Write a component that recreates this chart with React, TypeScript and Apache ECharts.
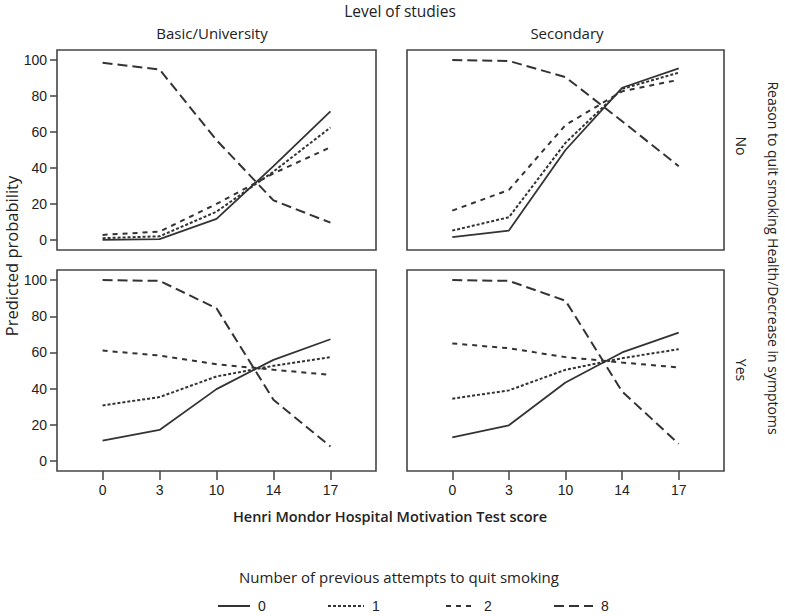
import React, { useEffect, useRef } from "react";
import * as echarts from "echarts";

// Motivation test score categories (x axis)
const xLabels = ["0", "3", "10", "14", "17"];
// Number of previous attempts to quit smoking (series)
const attemptNames = ["0", "1", "2", "8"];
const yTicks = [0, 20, 40, 60, 80, 100];

// Predicted probability per panel, rows follow attemptNames
const basicNo = [
  [0, 0.5, 11.7, 41, 71.5],
  [1, 2, 15.7, 38, 62.5],
  [2.8, 4.6, 20, 37, 51.5],
  [98.5, 94.8, 55.5, 22, 9.6],
];
const secondaryNo = [
  [1.5, 5.2, 50, 84.6, 95.4],
  [5.2, 12.6, 54, 84, 93],
  [16.3, 27.8, 63.9, 82.6, 89],
  [100, 99.5, 90.5, 66, 41],
];
const basicYes = [
  [11.2, 17.1, 39.7, 55.9, 67.3],
  [30.7, 35.3, 46.7, 52.6, 57.4],
  [61, 58.3, 53.5, 50.4, 47.6],
  [100, 99.6, 84.4, 33.8, 8],
];
const secondaryYes = [
  [13, 19.7, 43.4, 60, 71],
  [34.4, 39, 50.4, 56.8, 61.8],
  [65, 62.3, 57.4, 54.4, 51.7],
  [100, 99.6, 88.6, 38.4, 9.4],
];

const panels = [basicNo, secondaryNo, basicYes, secondaryYes];

const LINE = "#333333";
const BORDER = "#454545";
const TEXT = "#222222";
const dashTypes: any[] = ["solid", [3, 2], [5, 5], [10, 5]];
const lineWidths = [1.8, 2, 2, 2];
const legendLeft = [217, 327, 445, 553];
const legendWidth = [32, 36, 30, 39];

export default function App() {
  const ref = useRef<HTMLDivElement>(null);
  useEffect(() => {
    if (!ref.current) return;
    const chart = echarts.init(ref.current, undefined, { renderer: "svg" });
    const grids = [
      { left: 57, top: 50, width: 319, height: 200 },
      { left: 407, top: 50, width: 317, height: 200 },
      { left: 57, top: 270, width: 319, height: 201 },
      { left: 407, top: 270, width: 317, height: 201 },
    ].map((g) => ({
      ...g,
      show: true,
      borderColor: BORDER,
      borderWidth: 1.6,
      backgroundColor: "transparent",
    }));

    const xAxis = grids.map((_, i) => ({
      type: "value",
      gridIndex: i,
      position: "bottom",
      min: -0.8,
      max: 4.8,
      axisLine: { show: false, onZero: false },
      splitLine: { show: false },
      axisTick: {
        show: i >= 2,
        customValues: [0, 1, 2, 3, 4],
        length: 9,
        lineStyle: { color: BORDER, width: 1.5 },
      },
      axisLabel: {
        show: i >= 2,
        customValues: [0, 1, 2, 3, 4],
        formatter: (v: number) => xLabels[Math.round(v)] ?? "",
        margin: 12,
        fontSize: 14,
        color: TEXT,
        fontFamily: "Liberation Sans",
      },
    }));

    const yAxis = grids.map((_, i) => ({
      type: "value",
      gridIndex: i,
      position: "left",
      min: -5.6,
      max: 105.6,
      axisLine: { show: false, onZero: false },
      splitLine: { show: false },
      axisTick: {
        show: i % 2 === 0,
        customValues: yTicks,
        length: 7,
        lineStyle: { color: BORDER, width: 1.5 },
      },
      axisLabel: {
        show: i % 2 === 0,
        customValues: yTicks,
        margin: 10,
        fontSize: 14,
        color: TEXT,
        fontFamily: "Liberation Sans",
      },
    }));

    const series: any[] = [];
    panels.forEach((panel, p) => {
      panel.forEach((vals, k) => {
        series.push({
          type: "line",
          name: attemptNames[k],
          xAxisIndex: p,
          yAxisIndex: p,
          data: vals.map((v, i) => [i, v]),
          symbol: "none",
          silent: true,
          itemStyle: { color: LINE },
          lineStyle: { color: LINE, width: lineWidths[k], type: dashTypes[k] },
        });
      });
    });

    const legend = attemptNames.map((n, k) => ({
      data: [n],
      left: legendLeft[k],
      top: 599,
      padding: 0,
      itemWidth: legendWidth[k],
      itemHeight: 14,
      selectedMode: false,
      itemStyle: { color: "transparent", borderColor: "transparent", borderWidth: 0 },
      textStyle: {
        fontSize: 14,
        color: TEXT,
        fontFamily: "Liberation Sans",
        padding: [0, 0, 0, 3],
      },
    }));

    const txt = (
      text: string,
      x: number,
      y: number,
      font: string,
      rotation = 0
    ) => ({
      type: "text",
      x,
      y,
      rotation,
      silent: true,
      style: {
        text,
        font,
        fill: TEXT,
        textAlign: "center",
        textVerticalAlign: "middle",
      },
    });

    const OS = '"Open Sans", "DejaVu Sans", sans-serif';
    chart.setOption({
      animation: false,
      backgroundColor: "#ffffff",
      grid: grids,
      xAxis,
      yAxis,
      series,
      legend,
      graphic: [
        txt("Level of studies", 400, 11, `15.5px ${OS}`),
        txt("Basic/University", 212, 33, `15px ${OS}`),
        txt("Secondary", 567, 33, `15px ${OS}`),
        txt("Predicted probability", 11, 256, `16.5px ${OS}`, Math.PI / 2),
        txt(
          "Reason to quit smoking Health/Decrease in symptoms",
          773,
          258,
          `14px ${OS}`,
          -Math.PI / 2
        ),
        txt("No", 741, 146, `14px ${OS}`, -Math.PI / 2),
        txt("Yes", 741, 370, `14px ${OS}`, -Math.PI / 2),
        txt("Henri Mondor Hospital Motivation Test score", 390, 516, `600 14.5px ${OS}`),
        txt("Number of previous attempts to quit smoking", 399, 577, `15px ${OS}`),
      ],
    });
    return () => chart.dispose();
  }, []);

  return (
    <div
      ref={ref}
      style={{ position: "fixed", left: 0, top: 0, width: 785, height: 616, background: "#fff" }}
    />
  );
}
